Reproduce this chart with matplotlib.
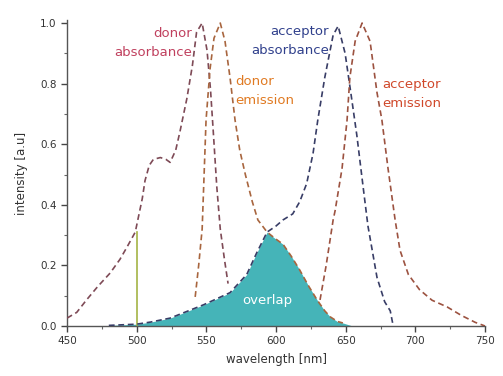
import matplotlib
matplotlib.use("Agg")
import matplotlib.pyplot as plt
from matplotlib.ticker import MultipleLocator

# ---- data ----
donor_abs_wl = [450, 457, 464, 472, 481, 488, 493, 499, 504, 506, 509, 512, 517, 521, 524,
                528, 531, 536, 540, 543, 547, 550.5, 553, 555, 557.5, 560, 563, 565.6]
donor_abs = [0.026, 0.045, 0.086, 0.13, 0.175, 0.22, 0.26, 0.31, 0.42, 0.48, 0.53, 0.55,
             0.556, 0.55, 0.54, 0.58, 0.64, 0.75, 0.86, 0.97, 1.0, 0.91, 0.78, 0.64, 0.46,
             0.32, 0.22, 0.14]

donor_em_wl = [542, 544.5, 547, 549.8, 552.7, 555.5, 560, 563.4, 567, 570.6, 574, 578,
               583, 587, 593.6, 599, 605, 611, 617, 623, 629.5, 635, 639, 644, 648]
donor_em = [0.096, 0.2, 0.32, 0.68, 0.85, 0.95, 1.0, 0.94, 0.82, 0.68, 0.58, 0.5,
            0.41, 0.35, 0.31, 0.29, 0.27, 0.23, 0.185, 0.135, 0.086, 0.05, 0.03, 0.015, 0.01]

acc_abs_wl = [480, 500, 510, 524, 548, 567, 579, 586, 593.6, 600, 605, 612, 617, 622,
              626.6, 630, 635, 641, 644.6, 649.6, 654, 658, 662.5, 666, 672.5, 678, 682, 684]
acc_abs = [0.002, 0.006, 0.013, 0.026, 0.07, 0.11, 0.17, 0.24, 0.31, 0.33, 0.35, 0.37,
           0.41, 0.47, 0.57, 0.68, 0.82, 0.96, 0.99, 0.90, 0.76, 0.63, 0.46, 0.33, 0.16,
           0.08, 0.05, 0.003]

acc_em_wl = [631.6, 636, 641, 642.4, 647.4, 651, 653, 656.8, 661.8, 667.5, 672.5, 676,
             680.4, 685.5, 689, 695, 703, 712, 722.8, 733, 743, 750]
acc_em = [0.086, 0.2, 0.35, 0.38, 0.52, 0.68, 0.82, 0.94, 1.0, 0.94, 0.77, 0.68, 0.52,
          0.35, 0.25, 0.17, 0.12, 0.085, 0.063, 0.035, 0.012, 0.0]

overlap_wl = [480, 500, 510, 524, 548, 567, 579, 586, 593.6, 599, 605, 611, 617, 623,
              629.5, 635, 639, 644, 648, 655]
overlap = [0.002, 0.006, 0.013, 0.026, 0.07, 0.11, 0.17, 0.24, 0.31, 0.29, 0.27, 0.23,
           0.185, 0.135, 0.086, 0.05, 0.03, 0.015, 0.01, 0.0]

excitation_wl = 500
excitation_top = 0.31

x_ticks = [450, 500, 550, 600, 650, 700, 750]
y_ticks = [0.0, 0.2, 0.4, 0.6, 0.8, 1.0]

# ---- figure ----
fig = plt.figure(figsize=(5.03, 3.76), dpi=100)
ax = fig.add_axes([67/503, 1-326/376, (485-67)/503, (326-20)/376])

ax.fill_between(overlap_wl, 0, overlap, color="#45b4b8", lw=0, zorder=1)
ax.plot([excitation_wl, excitation_wl], [0, excitation_top], color="#a4b446", lw=1.2, zorder=2)

dash = (0, (3.5, 2.2))
ax.plot(donor_abs_wl, donor_abs, color="#7e4a56", lw=1.2, ls=dash, zorder=3)
ax.plot(donor_em_wl, donor_em, color="#a8653e", lw=1.2, ls=dash, zorder=3)
ax.plot(acc_abs_wl, acc_abs, color="#383d66", lw=1.2, ls=dash, zorder=3)
ax.plot(acc_em_wl, acc_em, color="#9c5240", lw=1.2, ls=dash, zorder=3)

ax.set_xlim(450, 750)
ax.set_ylim(0, 1.01)
ax.set_xticks(x_ticks)
ax.set_yticks(y_ticks)
ax.set_yticklabels([f"{v:.1f}" for v in y_ticks])
ax.xaxis.set_minor_locator(MultipleLocator(25))
ax.yaxis.set_minor_locator(MultipleLocator(0.1))
ax.tick_params(which="major", direction="out", length=4, width=1, labelsize=7.5, color="#444444", labelcolor="#333333")
ax.tick_params(which="minor", direction="out", length=2, width=0.8, color="#666666")
for s in ["top", "right"]:
    ax.spines[s].set_visible(False)
for s in ["left", "bottom"]:
    ax.spines[s].set_color("#555555")
    ax.spines[s].set_linewidth(1.0)

ax.set_xlabel("wavelength [nm]", fontsize=8.5, color="#333333", labelpad=5)
ax.set_ylabel("intensity [a.u]", fontsize=8.5, color="#333333", labelpad=9)

fs = 9.5
ax.text(540, 0.935, "donor\nabsorbance", color="#c0405e", fontsize=fs, ha="right", va="center", linespacing=1.6)
ax.text(571, 0.775, "donor\nemission", color="#e07a22", fontsize=fs, ha="left", va="center", linespacing=1.6)
ax.text(638, 0.94, "acceptor\nabsorbance", color="#30408c", fontsize=fs, ha="right", va="center", linespacing=1.6)
ax.text(676, 0.765, "acceptor\nemission", color="#d0482a", fontsize=fs, ha="left", va="center", linespacing=1.6)
ax.text(594, 0.085, "overlap", color="white", fontsize=fs, ha="center", va="center")

fig.savefig("out.png", dpi=100)
